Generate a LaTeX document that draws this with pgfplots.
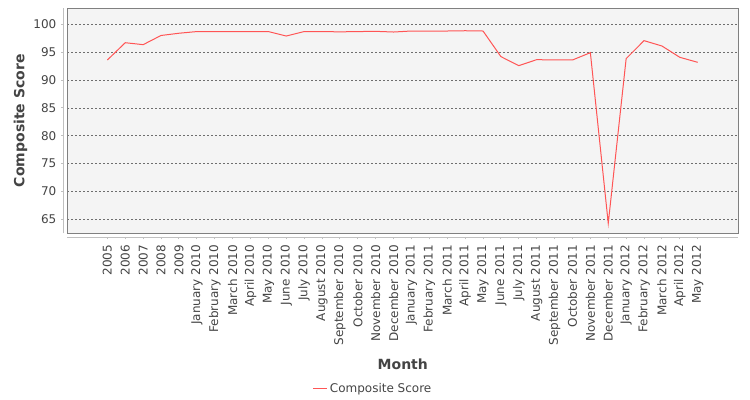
\documentclass[border=0pt]{standalone}
\usepackage{pgfplots}
\pgfplotsset{compat=1.18}
\usepackage{fontspec}
\setmainfont{DejaVu Sans}
\definecolor{txt}{RGB}{68,68,68}
\definecolor{bg}{RGB}{244,244,244}
\definecolor{framec}{RGB}{128,128,128}
\definecolor{axl}{RGB}{192,192,192}
\definecolor{grd}{RGB}{110,110,110}
\definecolor{ser}{RGB}{255,85,85}
\pgfplotstableread{
x y
0 93.6
1 96.7
2 96.35
3 98.0
4 98.4
5 98.7
6 98.7
7 98.7
8 98.7
9 98.7
10 97.9
11 98.7
12 98.7
13 98.65
14 98.7
15 98.74
16 98.62
17 98.8
18 98.8
19 98.8
20 98.85
21 98.8
22 94.2
23 92.58
24 93.66
25 93.6
26 93.6
27 94.91
28 64.28
29 93.84
30 97.07
31 96.11
32 94.08
33 93.18
}\scoretable
\begin{document}
\begin{tikzpicture}
\path[use as bounding box] (-67.3bp,-166.7bp) rectangle (682.7bp,233.3bp);
\pgfplotsset{
  common/.style={
    scale only axis, width=671bp, height=225.3bp,
    xmin=-2.24, xmax=35.27, ymin=62.49, ymax=102.93,
    at={(0,0)}, anchor=south west,
  }
}
\begin{axis}[common,
  axis background/.style={fill=bg},
  axis line style={draw=framec, line width=1bp},
  xtick=\empty, ytick={65,70,...,100}, yticklabels={}, major tick length=0pt,
  ymajorgrids, grid style={draw=grd, line width=0.5bp, dash pattern=on 2bp off 2bp},
  legend style={at={(axis description cs:0.3657,-0.688)}, anchor=west, draw=none, fill=none,
    inner sep=0pt, font=\fontsize{12bp}{14bp}\selectfont, text=txt},
  legend cell align=left,
  legend image code/.code={\draw[#1] (0bp,0bp) -- (14bp,0bp);},
]
\addplot[ser, line width=1bp] table[x=x,y=y] {\scoretable};
\addlegendentry{Composite Score}
\end{axis}
\begin{axis}[common,
  axis lines*=left, axis x line shift=4bp, axis y line shift=4bp,
  axis line style={draw=axl, line width=1bp},
  tick style={draw=axl, line width=1bp}, major tick length=2bp, tick align=outside,
  ytick={65,70,...,100},
  xtick={0,...,33},
  xticklabels={2005,2006,2007,2008,2009,January 2010,February 2010,March 2010,April 2010,May 2010,June 2010,July 2010,August 2010,September 2010,October 2010,November 2010,December 2010,January 2011,February 2011,March 2011,April 2011,May 2011,June 2011,July 2011,August 2011,September 2011,October 2011,November 2011,December 2011,January 2012,February 2012,March 2012,April 2012,May 2012},
  /pgf/number format/assume math mode=true,
  ticklabel style={font=\fontsize{12bp}{14bp}\selectfont, text=txt},
  xticklabel style={rotate=90, anchor=east, inner sep=0pt, outer sep=5.5bp},
  yticklabel style={anchor=east, inner sep=0pt, outer sep=5bp},
  xlabel={Month}, ylabel={Composite Score},
  label style={font=\bfseries\fontsize{14bp}{16bp}\selectfont, text=txt},
  xlabel style={at={(axis description cs:0.5,-0.580)}, anchor=center},
  ylabel style={at={(axis description cs:-0.0697,0.5)}, anchor=center, rotate=0},
]
\end{axis}
\end{tikzpicture}
\end{document}
